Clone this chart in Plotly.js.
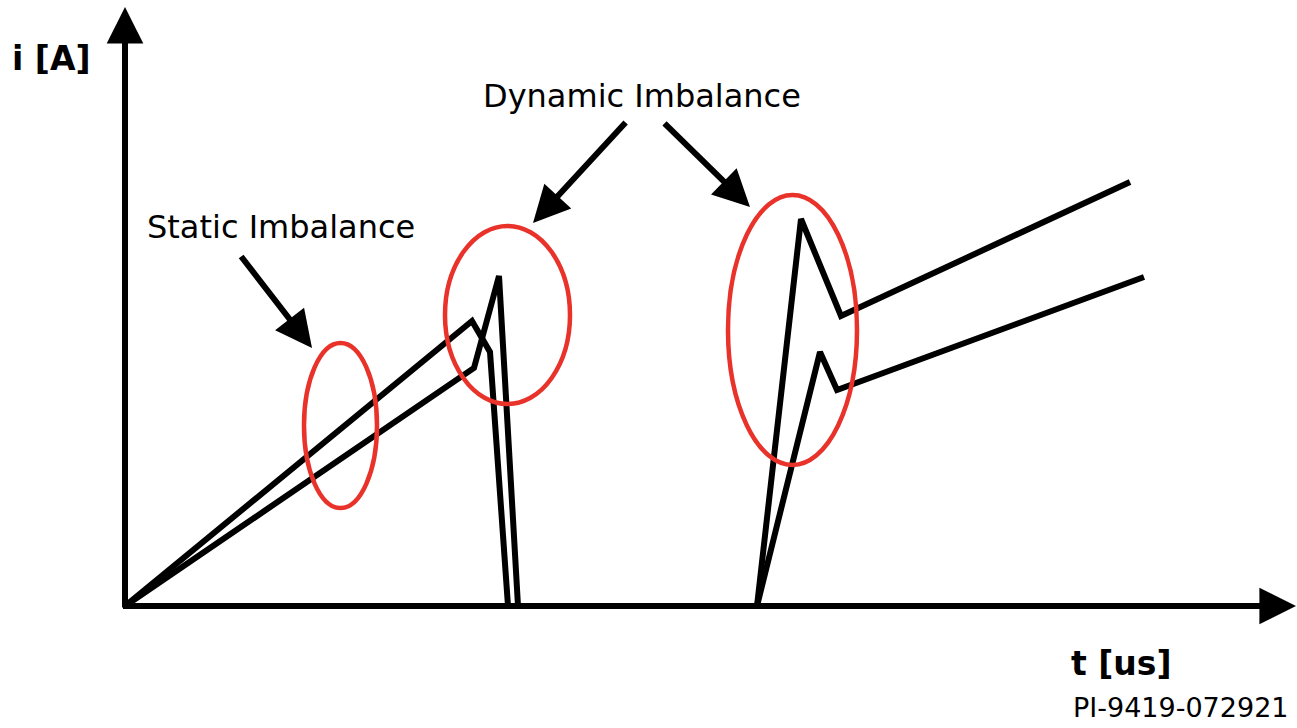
<!DOCTYPE html>
<html>
<head>
<meta charset="utf-8">
<script src="https://cdn.plot.ly/plotly-3.0.1.min.js"></script>
<style>
  html, body { margin: 0; padding: 0; background: #ffffff; }
  #chart { width: 1297px; height: 728px; }
</style>
</head>
<body>
<div id="chart"></div>
<script>
// ---- Data (schematic units: t [us], i [A]) ----
const tDevice1 = [0, 34.7, 36.5, 38.3, 63.2, 67.6, 71.6, 100.5];
const iDevice1 = [0, 28.5, 25.4, 0, 0, 38.7, 29.0, 42.4];

const tDevice2 = [0, 34.9, 37.4, 39.3, 63.2, 69.5, 71.2, 101.9];
const iDevice2 = [0, 23.8, 33.0, 0, 0, 25.4, 21.6, 32.9];

// Highlighted regions (ellipses): [t0, t1, i0, i1]
const highlightStatic   = [17.9, 25.2, 9.8, 26.3];
const highlightDynamic1 = [32.0, 44.5, 20.2, 38.0];
const highlightDynamic2 = [60.3, 73.2, 14.1, 41.1];

// Labels
const labelStatic  = "Static Imbalance";
const labelDynamic = "Dynamic Imbalance";
const labelY = "i [A]";
const labelX = "t [us]";
const labelId = "PI-9419-072921";

const lineStyle = { color: "#000000", width: 6 };
const traces = [
  { x: tDevice1, y: iDevice1, type: "scatter", mode: "lines", line: lineStyle, hoverinfo: "skip", showlegend: false },
  { x: tDevice2, y: iDevice2, type: "scatter", mode: "lines", line: lineStyle, hoverinfo: "skip", showlegend: false }
];

const red = "#e8322a";
function ellipse(r) {
  return { type: "circle", xref: "x", yref: "y", x0: r[0], x1: r[1], y0: r[2], y1: r[3],
           line: { color: red, width: 4.5 }, fillcolor: "rgba(0,0,0,0)" };
}

function arrow(tipX, tipY, tailX, tailY, w, s) {
  return { x: tipX, y: tipY, ax: tailX, ay: tailY, xref: "x", yref: "y", axref: "x", ayref: "y",
           text: "", showarrow: true, arrowhead: 2, arrowsize: s, arrowwidth: w, arrowcolor: "#000000",
           standoff: 0, startstandoff: 0 };
}

function label(txt, x, y, size, bold, xanchor) {
  return { x: x, y: y, xref: "x", yref: "y", text: bold ? "<b>" + txt + "</b>" : txt, showarrow: false,
           xanchor: xanchor || "center", yanchor: "middle",
           font: { family: "DejaVu Sans, Verdana, sans-serif", size: size, color: "#000000" } };
}

const layout = {
  width: 1297, height: 728, autosize: false,
  margin: { l: 0, r: 0, t: 0, b: 0, pad: 0 },
  paper_bgcolor: "#ffffff", plot_bgcolor: "#ffffff",
  showlegend: false,
  xaxis: { range: [-12.5, 117.2], visible: false, fixedrange: true },
  yaxis: { range: [-12.2, 60.6], visible: false, fixedrange: true },
  shapes: [ellipse(highlightStatic), ellipse(highlightDynamic1), ellipse(highlightDynamic2)],
  annotations: [
    // axes
    arrow(117.1, 0, -0.35, 0, 6, 1.22),
    arrow(0, 59.9, 0, -0.3, 6, 1.22),
    // pointer arrows
    arrow(18.7, 25.8, 11.5, 35.1, 6, 1.22),
    arrow(40.8, 38.3, 50.2, 48.5, 6, 1.22),
    arrow(62.5, 39.9, 53.8, 48.4, 6, 1.22),
    // labels
    label(labelY, -7.4, 54.8, 33, true),
    label(labelDynamic, 51.7, 51.0, 32, false),
    label(labelStatic, 15.6, 37.95, 32, false),
    label(labelX, 99.65, -5.7, 33, true),
    label(labelId, 116.6, -10.1, 27, false, "right")
  ]
};

Plotly.newPlot("chart", traces, layout, { staticPlot: true, displayModeBar: false });
</script>
</body>
</html>
